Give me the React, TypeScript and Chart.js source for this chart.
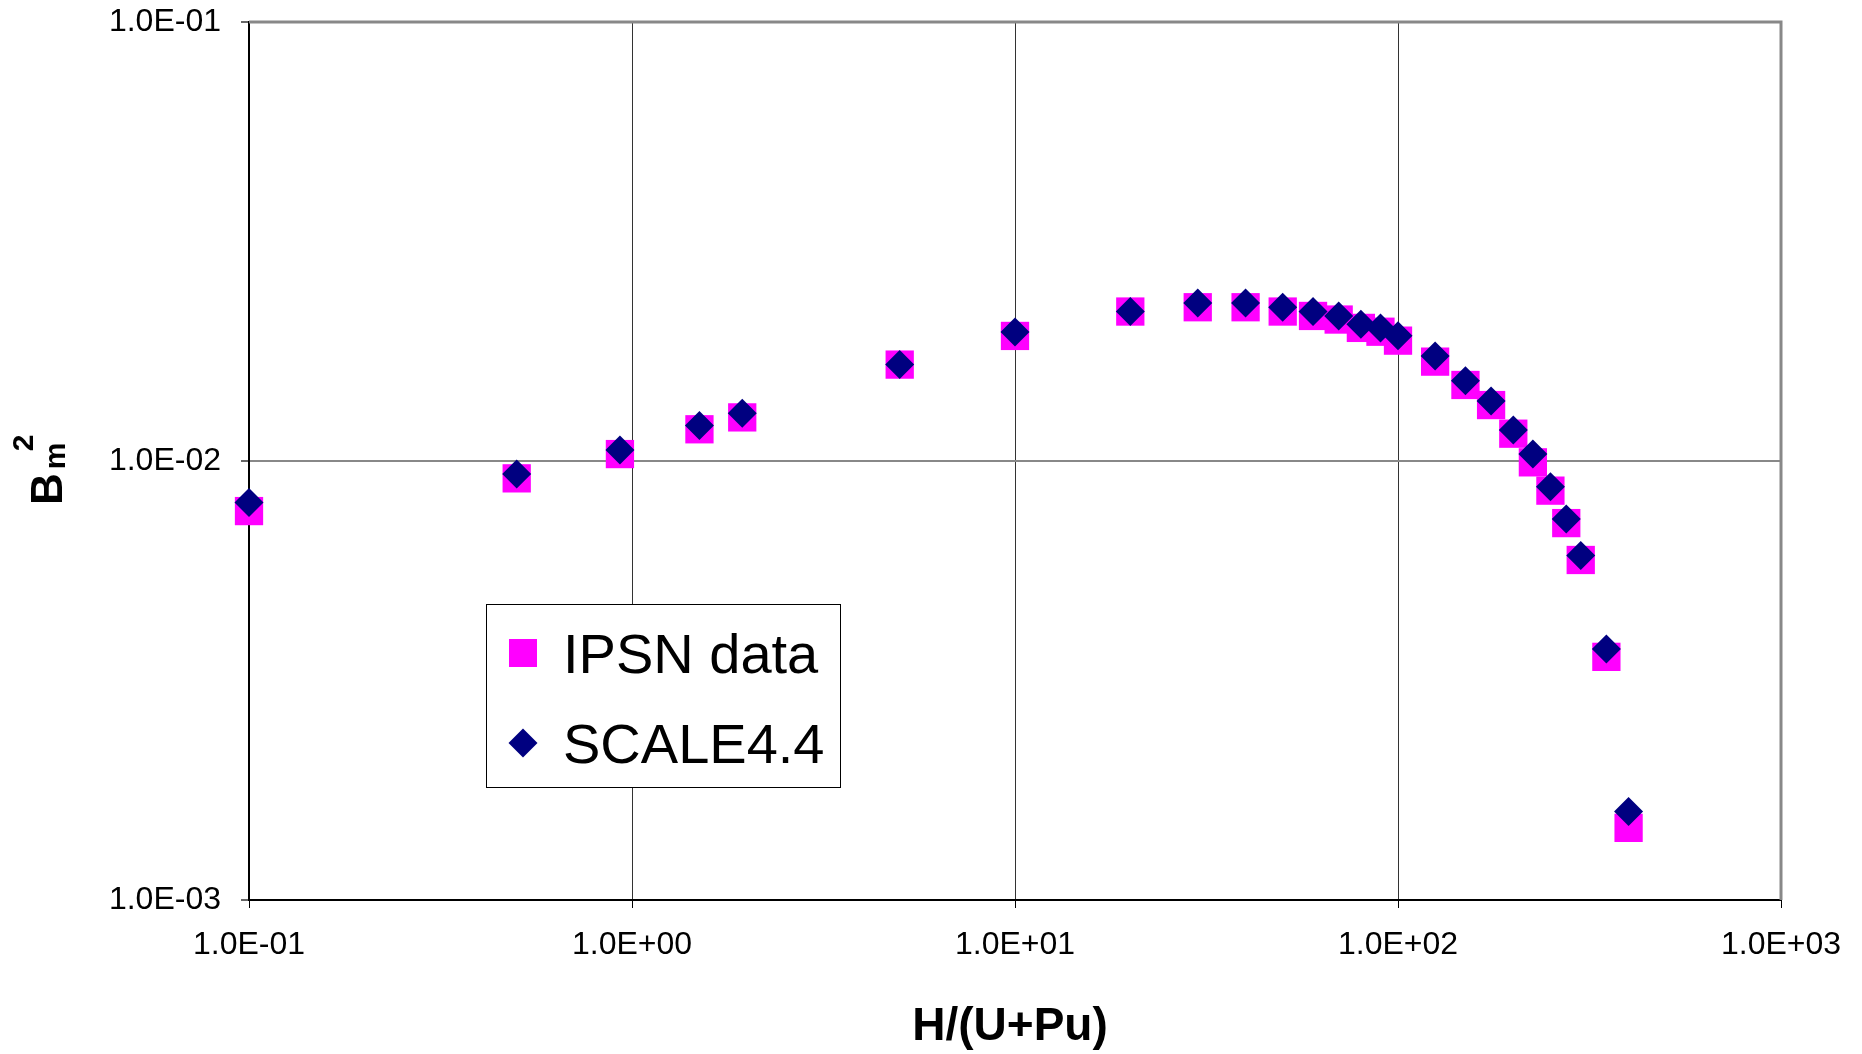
import React, { useEffect, useRef } from "react";
import { Chart, registerables } from "chart.js";

Chart.register(...registerables);

// ---- data ----
const xValues = [0.1, 0.5, 0.93, 1.5, 1.94, 5, 10, 20, 30, 40, 50, 60, 70, 80, 90, 100, 125, 150, 175, 200, 225, 250, 275, 300, 350, 400];
const ipsnValues = [0.00769, 0.00913, 0.01037, 0.01181, 0.01257, 0.01658, 0.01927, 0.0219, 0.0224, 0.0224, 0.0219, 0.0214, 0.021, 0.0201, 0.0197, 0.0188, 0.01684, 0.0149, 0.01341, 0.01154, 0.00993, 0.00856, 0.00722, 0.00595, 0.00358, 0.00146];
const scaleValues = [0.00804, 0.00934, 0.01059, 0.01204, 0.01284, 0.01658, 0.01967, 0.0219, 0.0229, 0.0229, 0.0224, 0.0219, 0.0214, 0.0205, 0.0201, 0.0193, 0.01734, 0.01524, 0.0137, 0.01177, 0.01037, 0.00874, 0.00738, 0.00609, 0.00373, 0.00159];

const seriesLabels = ["IPSN data", "SCALE4.4"];
const xTicks = [0.1, 1, 10, 100, 1000];
const xTickLabels = ["1.0E-01", "1.0E+00", "1.0E+01", "1.0E+02", "1.0E+03"];
const yTicks = [0.001, 0.01, 0.1];
const yTickLabels = ["1.0E-03", "1.0E-02", "1.0E-01"];
const xTitle = "H/(U+Pu)";
const yTitleMain = "B";
const yTitleSub = "m";
const yTitleSup = "2";

const FONT = "'Liberation Sans', Arial, sans-serif";

const decorPlugin = {
  id: "decor",
  beforeDatasetsDraw(chart: any) {
    const { ctx, chartArea: a } = chart;
    ctx.save();
    ctx.strokeStyle = "#888888";
    ctx.lineWidth = 3;
    ctx.beginPath();
    ctx.moveTo(a.left, a.top);
    ctx.lineTo(a.right, a.top);
    ctx.lineTo(a.right, a.bottom);
    ctx.stroke();
    ctx.restore();
  },
  afterDatasetsDraw(chart: any) {
    const { ctx } = chart;
    const ds = chart.data.datasets;
    ctx.save();
    // legend box
    ctx.fillStyle = "#ffffff";
    ctx.fillRect(486.5, 604.5, 354, 183);
    ctx.strokeStyle = "#000000";
    ctx.lineWidth = 1;
    ctx.strokeRect(486.5, 604.5, 354, 183);
    // square marker
    ctx.fillStyle = ds[0].backgroundColor;
    ctx.fillRect(509, 639, 28, 28);
    // diamond marker
    ctx.fillStyle = ds[1].backgroundColor;
    const cx = 523, cy = 743, r = 14.5;
    ctx.beginPath();
    ctx.moveTo(cx - r, cy);
    ctx.lineTo(cx, cy - r);
    ctx.lineTo(cx + r, cy);
    ctx.lineTo(cx, cy + r);
    ctx.closePath();
    ctx.fill();
    ctx.fillStyle = "#000000";
    ctx.font = `56px ${FONT}`;
    ctx.textAlign = "left";
    ctx.textBaseline = "alphabetic";
    ctx.fillText(ds[0].label, 563, 673);
    ctx.fillText(ds[1].label, 563, 763);
    ctx.restore();
  },
  afterDraw(chart: any) {
    const { ctx, chartArea: a } = chart;
    ctx.save();
    ctx.fillStyle = "#000000";
    ctx.textBaseline = "alphabetic";
    // x title
    ctx.font = `bold 46px ${FONT}`;
    ctx.textAlign = "center";
    ctx.fillText(xTitle, (a.left + a.right) / 2 - 5, 1040);
    // y title (rotated)
    ctx.translate(62, 505);
    ctx.rotate(-Math.PI / 2);
    ctx.textAlign = "left";
    ctx.font = `bold 44px ${FONT}`;
    ctx.fillText(yTitleMain, 0, 0);
    const bw = ctx.measureText(yTitleMain).width;
    ctx.font = `bold 30px ${FONT}`;
    ctx.fillText(yTitleSub, bw + 4, 3);
    ctx.fillText(yTitleSup, bw + 22, -29);
    ctx.restore();
  },
};

export default function App() {
  const ref = useRef<HTMLCanvasElement>(null);

  useEffect(() => {
    const canvas = ref.current;
    if (!canvas) return;
    const chart = new Chart(canvas, {
      type: "scatter",
      data: {
        datasets: [
          {
            label: seriesLabels[0],
            data: xValues.map((x, i) => ({ x, y: ipsnValues[i] })),
            pointStyle: "rect",
            pointRadius: 20,
            pointHoverRadius: 20,
            backgroundColor: "#FF00FF",
            borderWidth: 0,
            order: 2,
            clip: false,
          },
          {
            label: seriesLabels[1],
            data: xValues.map((x, i) => ({ x, y: scaleValues[i] })),
            pointStyle: "rectRot",
            pointRadius: 14.5,
            pointHoverRadius: 14.5,
            backgroundColor: "#000080",
            borderWidth: 0,
            order: 1,
            clip: false,
          },
        ],
      },
      options: {
        responsive: false,
        animation: false,
        devicePixelRatio: 1,
        layout: { padding: { top: 22, right: 81, left: 0, bottom: 0 } },
        plugins: {
          legend: { display: false },
          tooltip: { enabled: false },
        },
        scales: {
          x: {
            type: "logarithmic",
            position: "bottom",
            min: 0.1,
            max: 1000,
            afterBuildTicks: (s: any) => {
              s.ticks = xTicks.map((v) => ({ value: v }));
            },
            afterFit: (s: any) => {
              s.height = 154;
              s.paddingLeft = 0;
              s.paddingRight = 0;
            },
            ticks: {
              autoSkip: false,
              maxRotation: 0,
              minRotation: 0,
              padding: 18,
              color: "#000000",
              font: { family: FONT, size: 32 },
              callback: (_v: any, i: number) => xTickLabels[i],
            },
            grid: { color: "#333333", lineWidth: 1, tickLength: 8, tickColor: "#000000" },
            border: { color: "#000000", width: 2 },
          },
          y: {
            type: "logarithmic",
            position: "left",
            min: 0.001,
            max: 0.1,
            afterBuildTicks: (s: any) => {
              s.ticks = yTicks.map((v) => ({ value: v }));
            },
            afterFit: (s: any) => {
              s.width = 249;
              s.paddingTop = 0;
              s.paddingBottom = 0;
            },
            ticks: {
              autoSkip: false,
              padding: 20,
              color: "#000000",
              font: { family: FONT, size: 32 },
              callback: (_v: any, i: number) => yTickLabels[i],
            },
            grid: { color: "#888888", lineWidth: 2, tickLength: 8, tickColor: "#666666" },
            border: { color: "#000000", width: 2 },
          },
        },
      },
      plugins: [decorPlugin],
    } as any);
    return () => chart.destroy();
  }, []);

  return (
    <div style={{ position: "fixed", left: 0, top: 0, width: 1862, height: 1054, background: "#ffffff" }}>
      <canvas ref={ref} width={1862} height={1054} style={{ display: "block", width: 1862, height: 1054 }} />
    </div>
  );
}
